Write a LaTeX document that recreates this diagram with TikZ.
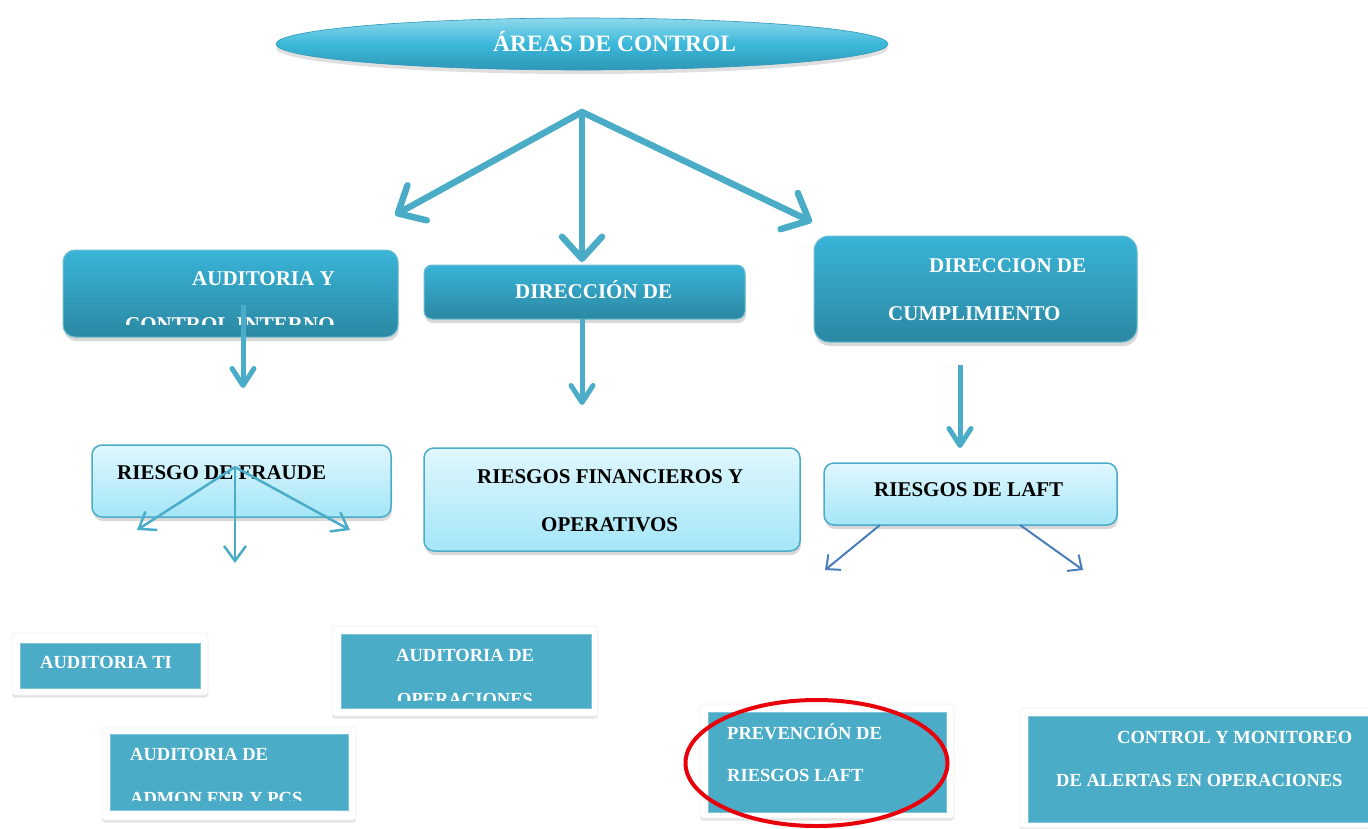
\documentclass[tikz,border=0pt]{standalone}
\usepackage{fontspec}
\setmainfont{Liberation Serif}
\usetikzlibrary{arrows.meta,shapes.geometric,shadows}
\definecolor{cyanA}{HTML}{4AACC6}
\definecolor{darkTop}{HTML}{39B4D7}
\definecolor{darkBot}{HTML}{2B88A3}
\definecolor{lightTop}{HTML}{E0F7FD}
\definecolor{lightBot}{HTML}{A4E6F8}
\definecolor{blueL}{HTML}{4A7EBB}
\definecolor{redO}{HTML}{E8000B}
\definecolor{ellTop}{HTML}{8ED8EC}
\definecolor{ellMid}{HTML}{3BB8D9}
\definecolor{ellBot}{HTML}{2E98B8}
\tikzset{
  darkbox/.style={rectangle, rounded corners=#1, inner sep=0pt, top color=darkTop, bottom color=darkBot, draw=cyanA!80!white, line width=1pt,
    drop shadow={opacity=0.3, shadow xshift=1pt, shadow yshift=-4pt}},
  lightbox/.style={rectangle, rounded corners=10pt, inner sep=0pt, top color=lightTop, bottom color=lightBot, draw=cyanA, line width=1.5pt,
    drop shadow={opacity=0.3, shadow xshift=1pt, shadow yshift=-4pt}},
  framebox/.style={rectangle, rounded corners=3pt, inner sep=0pt, fill=white, draw=black!6, line width=0.8pt,
    drop shadow={opacity=0.22, shadow xshift=0pt, shadow yshift=-2.5pt}},
  innerbox/.style={rectangle, inner sep=0pt, fill=cyanA, draw=cyanA!70!white, line width=0.6pt},
  wt/.style={anchor=base west, inner sep=0pt, text=white, font=\fontsize{21}{21}\selectfont\bfseries},
  wts/.style={anchor=base west, inner sep=0pt, text=white, font=\fontsize{18.5}{18.5}\selectfont\bfseries},
  bt/.style={anchor=base west, inner sep=0pt, text=black, font=\fontsize{21}{21}\selectfont\bfseries},
  bigarrow/.style={draw=cyanA, line width=6.5pt, line cap=round, -{Straight Barb[length=22pt, width=40pt, round]}},
  midarrow/.style={draw=cyanA, line width=5pt, -{Straight Barb[length=17pt, width=22pt, round]}},
  thinarrow/.style={draw=cyanA, line width=2.5pt, -{Straight Barb[length=15pt, width=22pt]}},
  bluearrow/.style={draw=blueL, line width=2pt, -{Straight Barb[length=11pt, width=20pt]}},
}
\begin{document}
\begin{tikzpicture}[x=1pt,y=-1pt]
\useasboundingbox (0,0) rectangle (1368,828);

% title ellipse
\node[ellipse, minimum width=612pt, minimum height=52pt, inner sep=0pt,
  top color=ellTop, bottom color=ellBot, middle color=ellMid, draw=ellBot, line width=0.6pt,
  drop shadow={opacity=0.25, shadow xshift=0pt, shadow yshift=-4pt}] (title) at (582,44) {};
\node[wt, font=\fontsize{23.5}{23.5}\selectfont\bfseries] (titleT) at (493,51) {ÁREAS DE CONTROL};

% dark boxes
\node[darkbox=12pt, minimum width=335pt, minimum height=87pt] (A) at (230.5,293.5) {};
\node[darkbox=8pt, minimum width=321pt, minimum height=54pt] (B) at (584.5,292) {};
\node[darkbox=15pt, minimum width=323pt, minimum height=106pt] (C) at (975.5,289) {};

\node[wt] (A1) at (192,285) {AUDITORIA Y};
\begin{scope}
\clip (63,250) rectangle (398,324);
\node[wt] (A2) at (125,331) {CONTROL INTERNO};
\end{scope}
\node[wt] (B1) at (515,298) {DIRECCIÓN DE};
\node[wt] (C1) at (929,272) {DIRECCION DE};
\node[wt] (C2) at (888,320) {CUMPLIMIENTO};

% arrows from title
\coordinate (hub) at (582,112);
\coordinate (tL) at (395,215);
\coordinate (tM) at (582,262);
\coordinate (tR) at (812,222);
\draw[bigarrow] (hub) -- (tL);
\draw[bigarrow] (hub) -- (tM);
\draw[bigarrow] (hub) -- (tR);

% light boxes
\node[lightbox, minimum width=299pt, minimum height=72pt] (D) at (241.5,481) {};
\node[lightbox, minimum width=376pt, minimum height=103pt] (E) at (612,499.5) {};
\node[lightbox, minimum width=293pt, minimum height=62pt] (F) at (970.5,494) {};

\node[bt] (D1) at (117,479) {RIESGO DE FRAUDE};
\node[bt] (E1) at (477,483) {RIESGOS FINANCIEROS Y};
\node[bt] (E2) at (541,531) {OPERATIVOS};
\node[bt] (F1) at (874,496) {RIESGOS DE LAFT};

% down arrows
\coordinate (aS) at (243,305); \coordinate (aE) at (243,388);
\coordinate (bS) at (582,319); \coordinate (bE) at (582,405);
\coordinate (cS) at (960,365); \coordinate (cE) at (960,448);
\draw[midarrow] (aS) -- (aE);
\draw[midarrow] (bS) -- (bE);
\draw[midarrow] (cS) -- (cE);

% fraud arrows
\coordinate (fr) at (235,467);
\coordinate (fr1) at (137,530);
\coordinate (fr2) at (235,563);
\coordinate (fr3) at (350,530);
\draw[thinarrow] (fr) -- (fr1);
\draw[thinarrow] (fr) -- (fr2);
\draw[thinarrow] (fr) -- (fr3);

% LAFT arrows
\coordinate (l1s) at (880,525); \coordinate (l1e) at (825,570);
\coordinate (l2s) at (1020,525); \coordinate (l2e) at (1083,570);
\draw[bluearrow] (l1s) -- (l1e);
\draw[bluearrow] (l2s) -- (l2e);

% bottom boxes
\node[framebox, minimum width=196pt, minimum height=62pt] (Go) at (110,664) {};
\node[innerbox, minimum width=180pt, minimum height=45pt] (G) at (110,665.5) {};
\node[wts] (G1) at (40,668) {AUDITORIA TI};

\node[framebox, minimum width=266pt, minimum height=90pt] (Ho) at (465,671) {};
\node[innerbox, minimum width=250pt, minimum height=74pt] (H) at (466,671) {};
\node[wts] (H1) at (396,661) {AUDITORIA DE};
\begin{scope}
\clip (341,634) rectangle (591,700);
\node[wts] (H2) at (397,705) {OPERACIONES};
\end{scope}

\node[framebox, minimum width=254pt, minimum height=93pt] (Io) at (229,773.5) {};
\node[innerbox, minimum width=238pt, minimum height=76pt] (I) at (229,772) {};
\node[wts] (I1) at (130,760) {AUDITORIA DE};
\begin{scope}
\clip (110,734) rectangle (348,800);
\node[wts] (I2) at (130,804) {ADMON FNR Y PCS};
\end{scope}

\node[framebox, minimum width=254pt, minimum height=114pt] (Jo) at (827,761) {};
\node[innerbox, minimum width=238pt, minimum height=100pt] (J) at (827,762) {};
\node[wts] (J1) at (727,739) {PREVENCIÓN DE};
\node[wts] (J2) at (727,781) {RIESGOS LAFT};

\node[framebox, minimum width=360pt, minimum height=120pt] (Ko) at (1200,768) {};
\node[innerbox, minimum width=350pt, minimum height=106pt] (K) at (1203,769) {};
\node[wts] (K1) at (1117,743) {CONTROL Y MONITOREO};
\node[wts] (K2) at (1056,786) {DE ALERTAS EN OPERACIONES};

% red ellipse
\node[ellipse, draw=redO, line width=4pt, minimum width=262pt, minimum height=126pt, inner sep=0pt] (ring) at (816.5,763) {};
\end{tikzpicture}
\end{document}
